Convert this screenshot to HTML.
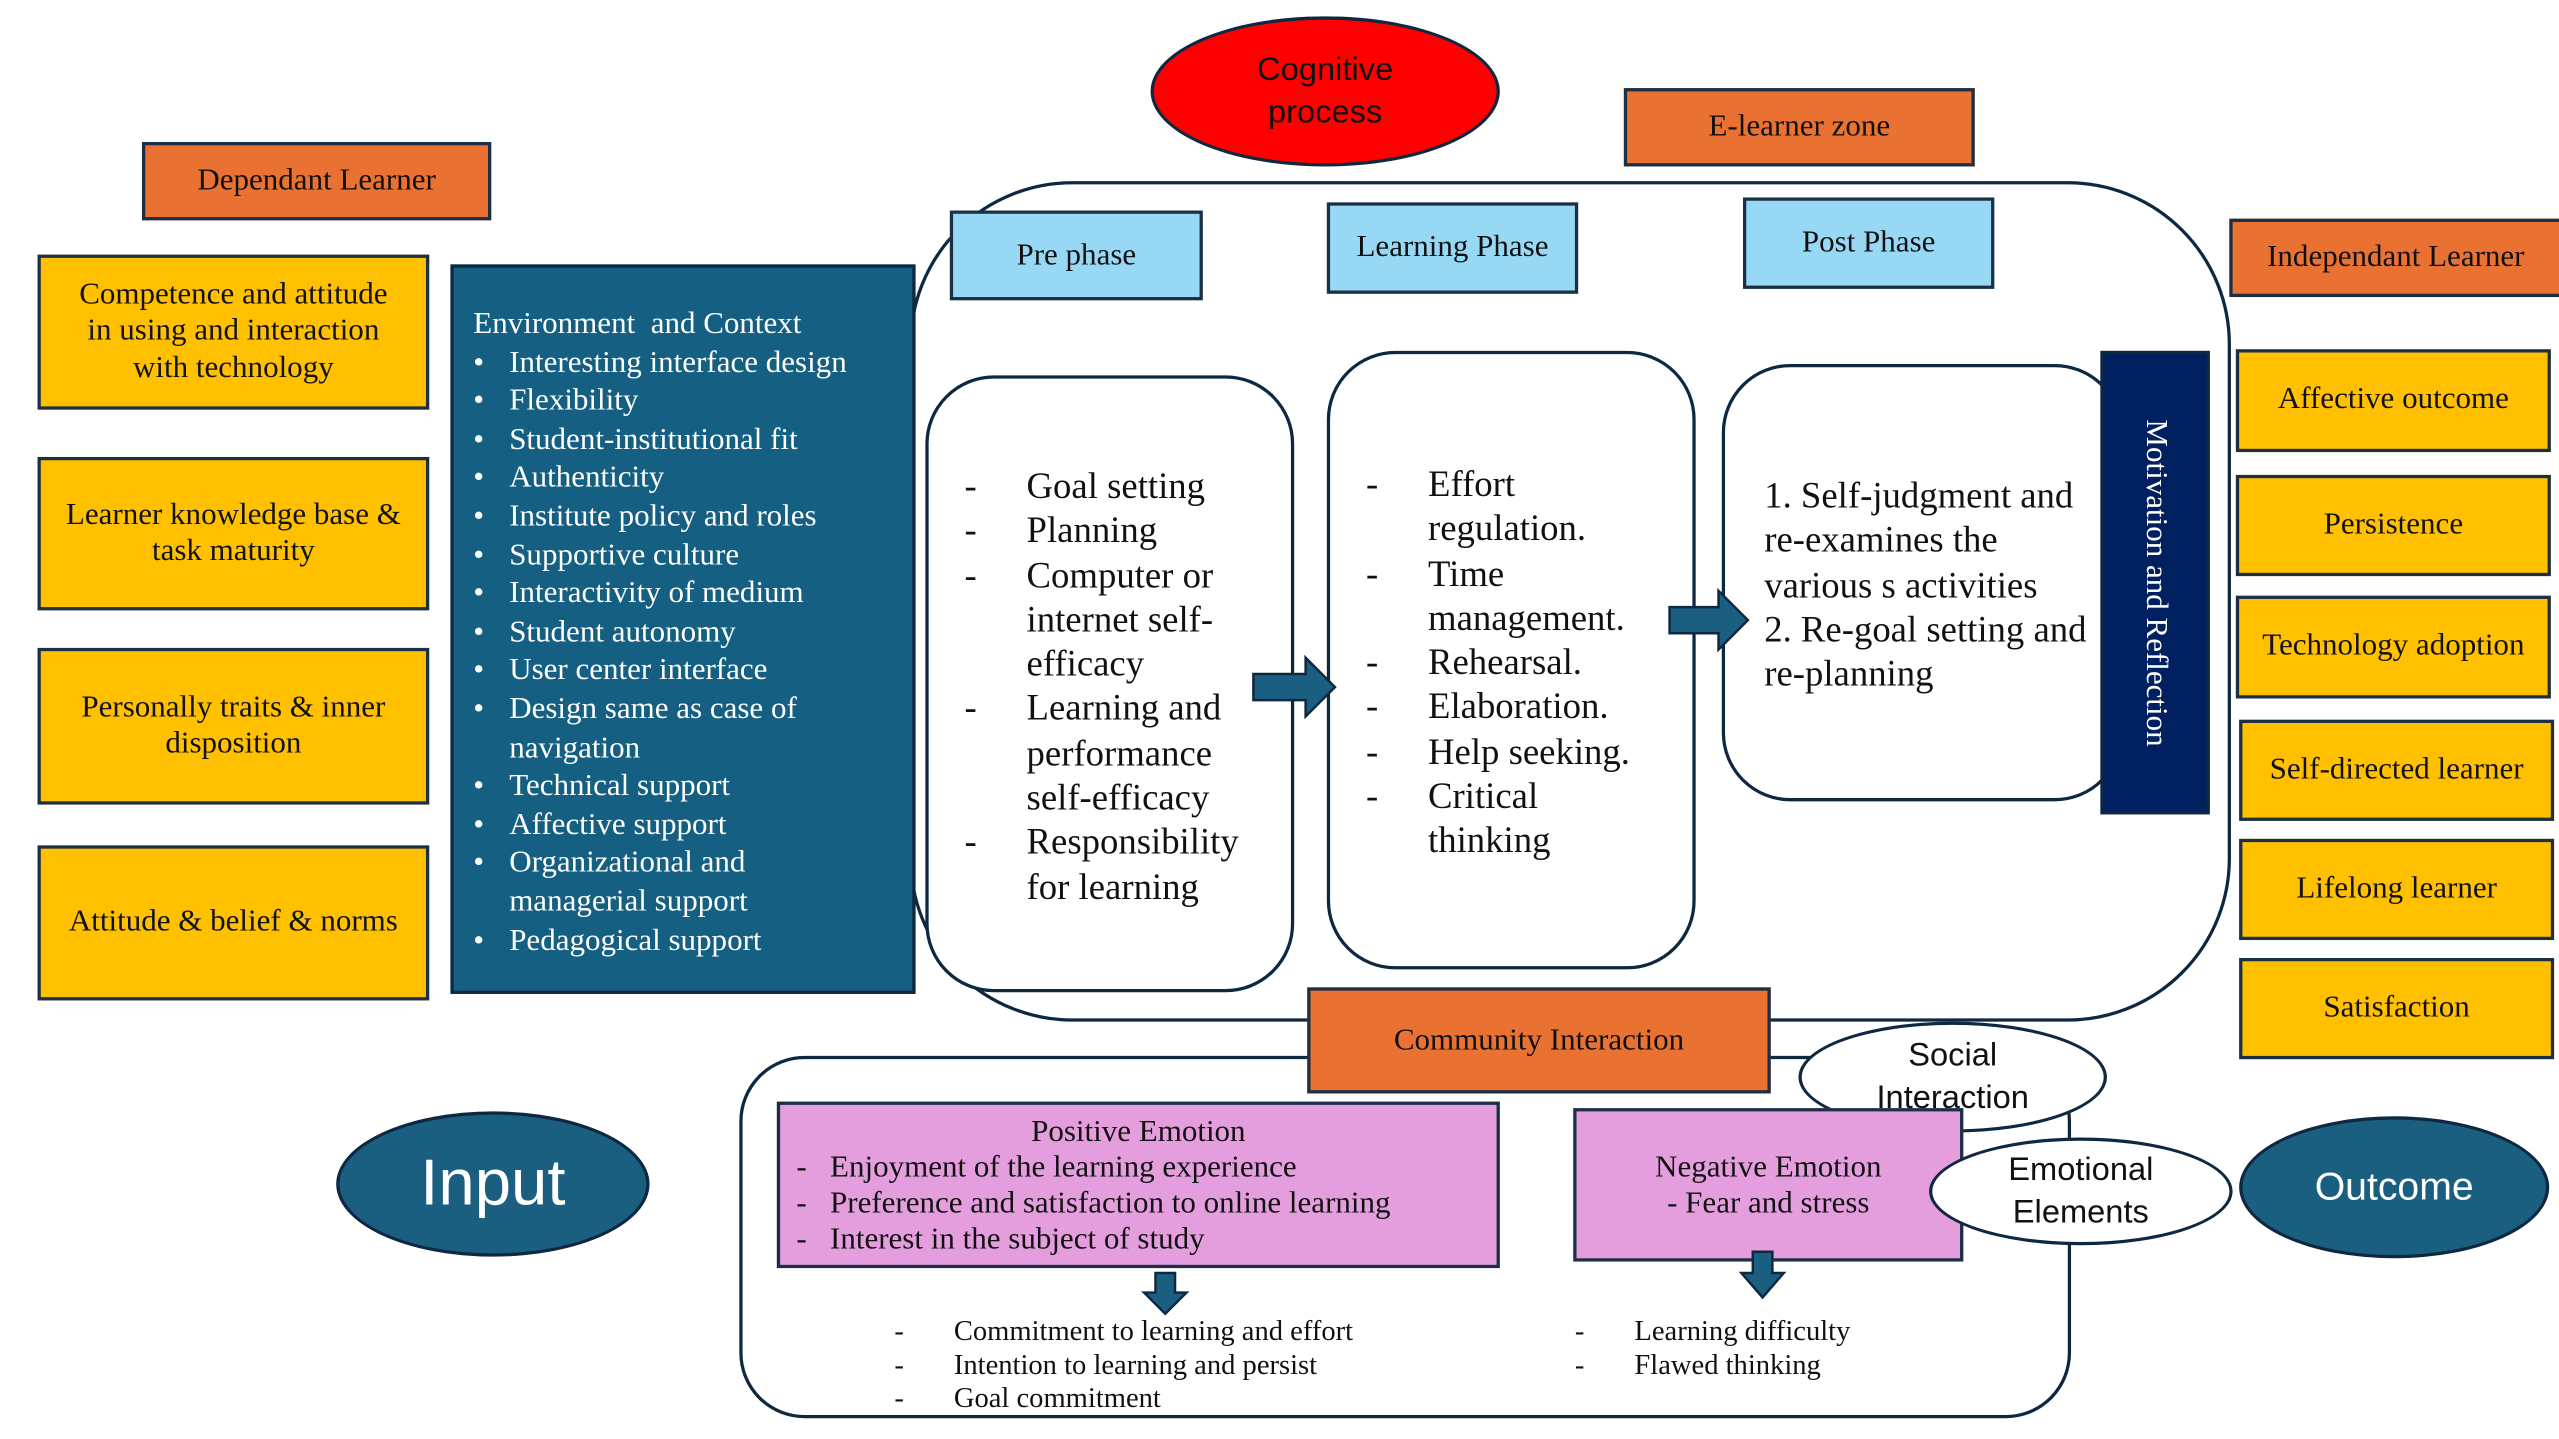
<!DOCTYPE html>
<html><head><meta charset="utf-8">
<style>
html,body{margin:0;padding:0;background:#fff;overflow:hidden}
#w{position:absolute;left:0;top:0;width:1568px;height:882px;transform:scale(1.63202);transform-origin:0 0;font-family:"Liberation Serif",serif;color:#111}
.a{position:absolute;box-sizing:border-box}
.or{background:#e97132;border:2px solid #1d2f44;display:flex;align-items:center;justify-content:center;font-size:19px}
.lb{background:#97d9f5;border:2px solid #1d2f44;display:flex;align-items:center;justify-content:center;font-size:19px}
.y{background:#ffc000;border:2px solid #1d2f44;display:flex;align-items:center;justify-content:center;text-align:center;font-size:19px;line-height:22.5px}
.rb{border:2px solid #0e2841;background:#fff}
.el{border:2px solid #0e2841;border-radius:50%;display:flex;align-items:center;justify-content:center;text-align:center;font-family:"Liberation Sans",sans-serif}
ul{margin:0;padding:0;list-style:none}
.dl li{position:relative;padding-left:60px}
.dl li:before{content:"-";position:absolute;left:22px}
.pk{background:#e59edd;border:2px solid #1d2f44;font-size:19px;line-height:22px}
.tl li{position:relative;padding-left:22px}
.tl li:before{content:"•";position:absolute;left:0}
</style></head><body><div id="w">
<div class="a el" style="left:705px;top:10px;width:214px;height:92px;background:#ff0000;font-size:20px;line-height:26px">Cognitive<br>process</div>
<div class="a or" style="left:995px;top:54px;width:215px;height:48px">E-learner zone</div>
<div class="a or" style="left:87px;top:87px;width:214px;height:48px">Dependant Learner</div>
<div class="a rb" style="left:557px;top:111px;width:810px;height:515px;border-radius:100px"></div>
<div class="a lb" style="left:582px;top:129px;width:155px;height:55px">Pre phase</div>
<div class="a lb" style="left:813px;top:124px;width:154px;height:56px">Learning Phase</div>
<div class="a lb" style="left:1068px;top:121px;width:154px;height:56px">Post Phase</div>
<div class="a or" style="left:1366px;top:134px;width:204px;height:48px">Independant Learner</div>

<div class="a y" style="left:23px;top:156px;width:240px;height:95px">Competence and attitude<br>in using and interaction<br>with technology</div>
<div class="a y" style="left:23px;top:280px;width:240px;height:94px">Learner knowledge base &amp;<br>task maturity</div>
<div class="a y" style="left:23px;top:397px;width:240px;height:96px">Personally traits &amp; inner<br>disposition</div>
<div class="a y" style="left:23px;top:518px;width:240px;height:95px">Attitude &amp; belief &amp; norms</div>

<div class="a" style="left:276px;top:162px;width:285px;height:447px;background:#156082;border:2px solid #0e2841;color:#fff;font-size:19px;line-height:23.6px;padding:23px 0 0 12px">Environment &nbsp;and Context
<ul class="tl" style="padding-left:0">
<li>Interesting interface design</li><li>Flexibility</li><li>Student-institutional fit</li><li>Authenticity</li><li>Institute policy and roles</li><li>Supportive culture</li><li>Interactivity of medium</li><li>Student autonomy</li><li>User center interface</li><li>Design same as case of<br>navigation</li><li>Technical support</li><li>Affective support</li><li>Organizational and<br>managerial support</li><li>Pedagogical support</li></ul></div>

<div class="a rb" style="left:567px;top:230px;width:226px;height:378px;border-radius:42px;font-size:22.5px;line-height:27.3px;padding-top:52px">
<ul class="dl"><li>Goal setting</li><li>Planning</li><li>Computer or<br>internet self-<br>efficacy</li><li>Learning and<br>performance<br>self-efficacy</li><li>Responsibility<br>for learning</li></ul></div>
<div class="a rb" style="left:813px;top:215px;width:226px;height:379px;border-radius:42px;font-size:22.5px;line-height:27.3px;padding-top:66px">
<ul class="dl"><li>Effort<br>regulation.</li><li>Time<br>management.</li><li>Rehearsal.</li><li>Elaboration.</li><li>Help seeking.</li><li>Critical<br>thinking</li></ul></div>
<div class="a rb" style="left:1055px;top:223px;width:246px;height:268px;border-radius:42px;font-size:22.5px;line-height:27.3px;padding:65px 0 0 24px">1. Self-judgment and<br>re-examines the<br>various s activities<br>2. Re-goal setting and<br>re-planning</div>
<div class="a" style="left:1287px;top:215px;width:67px;height:284px;background:#002060;border:2px solid #0e2841;color:#fff;font-size:19px;display:flex;align-items:center;justify-content:center"><span style="writing-mode:vertical-rl;white-space:nowrap">Motivation and Reflection</span></div>

<div class="a y" style="left:1370px;top:214px;width:193px;height:63px">Affective outcome</div>
<div class="a y" style="left:1370px;top:291px;width:193px;height:62px">Persistence</div>
<div class="a y" style="left:1370px;top:365px;width:193px;height:63px">Technology adoption</div>
<div class="a y" style="left:1372px;top:441px;width:193px;height:62px">Self-directed learner</div>
<div class="a y" style="left:1372px;top:514px;width:193px;height:62px">Lifelong learner</div>
<div class="a y" style="left:1372px;top:587px;width:193px;height:62px">Satisfaction</div>

<div class="a rb" style="left:453px;top:647px;width:816px;height:222px;border-radius:40px"></div>
<div class="a or" style="left:801px;top:605px;width:284px;height:65px">Community Interaction</div>
<div class="a el" style="left:1102px;top:626px;width:189px;height:68px;background:#fff;font-size:20px;line-height:26px">Social<br>Interaction</div>
<div class="a pk" style="left:476px;top:675px;width:443px;height:102px;padding-top:6px">
<div style="text-align:center">Positive Emotion</div>
<div style="padding-left:10px">-&nbsp;&nbsp; Enjoyment of the learning experience<br>-&nbsp;&nbsp; Preference and satisfaction to online learning<br>-&nbsp;&nbsp; Interest in the subject of study</div></div>
<div class="a pk" style="left:964px;top:679px;width:239px;height:94px;text-align:center;padding-top:24px">Negative Emotion<br>- Fear and stress</div>
<div class="a el" style="left:1182px;top:697px;width:186px;height:66px;background:#fff;font-size:20px;line-height:26px">Emotional<br>Elements</div>
<div class="a el" style="left:206px;top:681px;width:192px;height:89px;background:#1a5e80;color:#fff;font-size:40px">Input</div>
<div class="a el" style="left:1372px;top:684px;width:190px;height:87px;background:#1a5e80;color:#fff;font-size:24px">Outcome</div>
<div class="a" style="left:548px;top:805px;font-size:17.5px;line-height:20.5px">-&nbsp;&nbsp;&nbsp;&nbsp;&nbsp;&nbsp;&nbsp;Commitment to learning and effort<br>-&nbsp;&nbsp;&nbsp;&nbsp;&nbsp;&nbsp;&nbsp;Intention to learning and persist<br>-&nbsp;&nbsp;&nbsp;&nbsp;&nbsp;&nbsp;&nbsp;Goal commitment</div>
<div class="a" style="left:965px;top:805px;font-size:17.5px;line-height:20.5px">-&nbsp;&nbsp;&nbsp;&nbsp;&nbsp;&nbsp;&nbsp;Learning difficulty<br>-&nbsp;&nbsp;&nbsp;&nbsp;&nbsp;&nbsp;&nbsp;Flawed thinking</div>

<svg class="a" style="left:0;top:0" width="1568" height="882">
<g fill="#1a5e80" stroke="#0e2841" stroke-width="1.5">
<polygon points="768,413 800,413 800,403 818,421 800,439 800,429 768,429"/>
<polygon points="1023,372 1053,372 1053,362 1071,380 1053,398 1053,388 1023,388"/>
<polygon points="708,780 720,780 720,792 727,792 714,805 701,792 708,792"/>
<polygon points="1074,767 1086,767 1086,780 1093,780 1080,795 1067,780 1074,780"/>
</g></svg>
</div></body></html>
